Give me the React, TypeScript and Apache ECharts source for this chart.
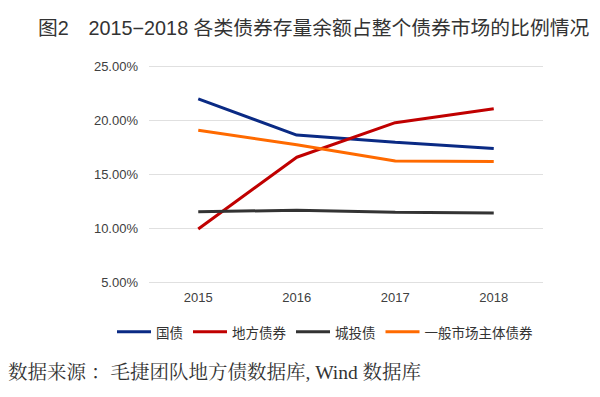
import React, { useEffect, useRef } from "react";
import * as echarts from "echarts";

const years = ["2015", "2016", "2017", "2018"];
const guozhai = [21.95, 18.6, 17.95, 17.35];
const difang = [9.9, 16.55, 19.75, 21.05];
const chengtou = [11.5, 11.65, 11.45, 11.4];
const yiban = [19.05, 17.7, 16.2, 16.15];
const seriesNames = ["国债", "地方债券", "城投债", "一般市场主体债券"];
const colors = ["#0a2a84", "#c00000", "#333333", "#ff6a00"];

export default function App() {
  const ref = useRef<HTMLDivElement>(null);
  useEffect(() => {
    if (!ref.current) return;
    const chart = echarts.init(ref.current, undefined, { renderer: "svg" });
    const data = [guozhai, difang, chengtou, yiban];
    chart.setOption({
      animation: false,
      backgroundColor: "#ffffff",
      title: {
        text: "图2　2015−2018 各类债券存量余额占整个债券市场的比例情况",
        left: 33,
        top: 13,
        textStyle: {
          fontFamily: "'Liberation Sans', 'Noto Sans CJK SC', sans-serif",
          fontSize: 19.8,
          fontWeight: "normal",
          color: "#333333",
        },
      },
      grid: { left: 149, right: 57, top: 66, bottom: 115 },
      legend: {
        left: 112,
        top: 320,
        itemWidth: 34,
        itemHeight: 3,
        itemGap: 10,
        icon: "rect",
        data: seriesNames,
        textStyle: {
          fontFamily: "'Noto Sans CJK SC', sans-serif",
          fontSize: 13.5,
          color: "#333333",
        },
      },
      xAxis: {
        type: "category",
        data: years,
        boundaryGap: true,
        axisLine: { show: false },
        axisTick: { show: false },
        axisLabel: {
          margin: 9,
          fontSize: 13,
          color: "#404040",
          fontFamily: "Arial, 'Liberation Sans', sans-serif",
        },
      },
      yAxis: {
        type: "value",
        min: 5,
        max: 25,
        interval: 5,
        axisLine: { show: false },
        axisTick: { show: false },
        splitLine: { lineStyle: { color: "#e0e0e0", width: 1 } },
        axisLabel: {
          margin: 11,
          fontSize: 13,
          color: "#404040",
          fontFamily: "Arial, 'Liberation Sans', sans-serif",
          formatter: (v: number) => v.toFixed(2) + "%",
        },
      },
      graphic: [
        {
          type: "text",
          left: 8,
          top: 363,
          style: {
            text: "数据来源 ：毛捷团队地方债数据库, Wind 数据库",
            fontSize: 19.5,
            fill: "#333333",
            fontFamily: "'Liberation Serif', 'Noto Serif CJK SC', serif",
          },
        },
      ],
      series: seriesNames.map((name, i) => ({
        name,
        type: "line",
        data: data[i],
        symbol: "none",
        lineStyle: { color: colors[i], width: 3 },
        itemStyle: { color: colors[i] },
      })),
    });
    return () => chart.dispose();
  }, []);
  return (
    <div
      ref={ref}
      style={{ position: "fixed", left: 0, top: 0, width: 600, height: 397 }}
    />
  );
}
